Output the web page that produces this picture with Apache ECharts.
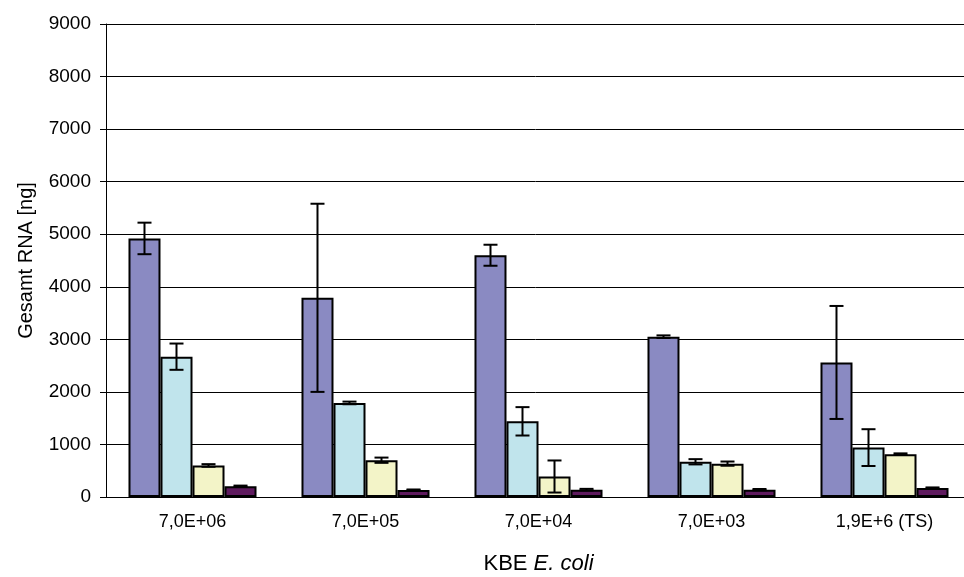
<!DOCTYPE html>
<html><head><meta charset="utf-8">
<script src="https://cdn.jsdelivr.net/npm/echarts@6/dist/echarts.min.js"></script>
<style>html,body{margin:0;padding:0;background:#fff}#c{width:964px;height:577px}</style>
</head><body><div id="c"></div>
<script>
var categories = ['7,0E+06', '7,0E+05', '7,0E+04', '7,0E+03', '1,9E+6 (TS)'];
var s1 = [4920, 3790, 4600, 3050, 2560];
var s2 = [2670, 1790, 1440, 670, 940];
var s3 = [600, 700, 390, 635, 815];
var s4 = [205, 135, 140, 140, 170];
var e1 = [300, 1790, 200, 25, 1075];
var e2 = [250, 25, 270, 50, 350];
var e3 = [25, 50, 305, 40, 15];
var e4 = [12, 8, 15, 12, 12];
var yTicks = [0, 1000, 2000, 3000, 4000, 5000, 6000, 7000, 8000, 9000];

var values = [s1, s2, s3, s4];
var errs = [e1, e2, e3, e4];
var colors = ['#8A8AC2', '#C0E4EC', '#F3F4C8', '#5E1A5E'];
var gapPct = 0.26;
var FONT = 'Liberation Sans, Arial, sans-serif';

var series = [];
values.forEach(function (v, k) {
  series.push({
    type: 'bar', data: v, barGap: '0%', barCategoryGap: (gapPct * 100) + '%',
    itemStyle: { color: colors[k], borderColor: '#000', borderWidth: 2 },
    silent: true, z: 2
  });
});
values.forEach(function (v, k) {
  var data = v.map(function (val, i) { return [i, val, errs[k][i]]; });
  series.push({
    type: 'custom', z: 5, silent: true, data: data,
    renderItem: function (params, api) {
      var i = api.value(0), val = api.value(1), e = api.value(2);
      var band = api.size([1, 0])[0];
      var bw = band * (1 - gapPct) / 4;
      var c = api.coord([i, val]);
      var x = c[0] + (k - 1.5) * bw;
      var top = api.coord([i, val + e])[1];
      var bot = api.coord([i, val - e])[1];
      var hw = 7;
      var st = { stroke: '#000', lineWidth: 2 };
      return { type: 'group', children: [
        { type: 'line', shape: { x1: x, y1: top, x2: x, y2: bot }, style: st },
        { type: 'line', shape: { x1: x - hw, y1: top, x2: x + hw, y2: top }, style: st },
        { type: 'line', shape: { x1: x - hw, y1: bot, x2: x + hw, y2: bot }, style: st }
      ]};
    }
  });
});

var chart = echarts.init(document.getElementById('c'), null, { renderer: 'canvas' });
chart.setOption({
  animation: false,
  backgroundColor: '#fff',
  grid: { left: 106, top: 24, right: -7, bottom: 80, containLabel: false, outerBoundsMode: 'none' },
  xAxis: {
    type: 'category', data: categories,
    axisLine: { lineStyle: { color: '#000', width: 1 } },
    axisTick: { length: 5, lineStyle: { color: '#000' } },
    axisLabel: { color: '#000', fontSize: 18, fontFamily: FONT, margin: 16 },
    name: '{n|KBE }{i|E. coli}', nameLocation: 'middle', nameGap: 56,
    nameTextStyle: { rich: {
      n: { fontSize: 22, fontFamily: FONT, color: '#000' },
      i: { fontSize: 22, fontFamily: FONT, fontStyle: 'italic', color: '#000' }
    } }
  },
  yAxis: {
    type: 'value', min: yTicks[0], max: yTicks[yTicks.length - 1], interval: 1000,
    axisLine: { show: true, lineStyle: { color: '#000', width: 1 } },
    axisTick: { show: true, length: 6, lineStyle: { color: '#000' } },
    axisLabel: { color: '#000', fontSize: 19, fontFamily: FONT, margin: 15,
      formatter: function (v) { return String(v); } },
    splitLine: { show: true, lineStyle: { color: '#000', width: 1 } },
    name: 'Gesamt RNA [ng]', nameLocation: 'middle', nameGap: 70,
    nameTextStyle: { fontSize: 20, fontFamily: FONT, color: '#000' }
  },
  series: series
});
</script></body></html>
